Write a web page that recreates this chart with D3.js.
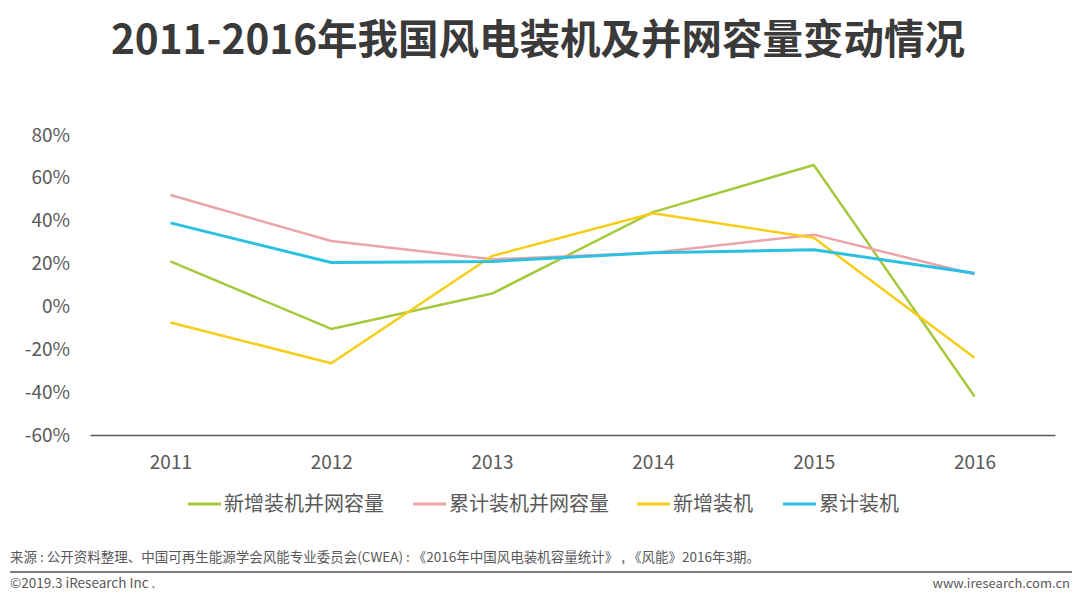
<!doctype html>
<html>
  <head>
    <meta charset="utf-8">
    <title>2011-2016年我国风电装机及并网容量变动情况</title>
    <script src="https://cdn.jsdelivr.net/npm/d3@7/dist/d3.min.js"></script>
    <style>
      body { margin: 0; background: #fff; }
      text { font-family: "Noto Sans CJK SC", "Noto Sans", sans-serif; }
    </style>
  </head>
  <body>
    <div id="chart"></div>
  </body>
  <script>
    var years = ["2011", "2012", "2013", "2014", "2015", "2016"];
    var seriesNames = ["新增装机并网容量", "累计装机并网容量", "新增装机", "累计装机"];
    var newGrid = [21, -10.5, 6, 44, 66, -42];
    var totalGrid = [52, 30.5, 22, 25, 33.5, 15];
    var newInstalled = [-7.5, -26.5, 23.5, 43.5, 32, -24];
    var totalInstalled = [39, 20.5, 21, 25, 26.5, 15.5];
    var yTicks = [-60, -40, -20, 0, 20, 40, 60, 80];
    var colours = ["#a6c93c", "#eba4aa", "#f7cd17", "#2cc0e2"];

    var width = 1080, height = 599;

    var svg = d3.select("#chart")
                .append("svg")
                .attr("width", width)
                .attr("height", height);

    var series = [newGrid, totalGrid, newInstalled, totalInstalled].map(function(v, i) {
      return { name: seriesNames[i], values: v, colour: colours[i] };
    });

    // title
    svg.append("text")
       .attr("x", 538)
       .attr("y", 54)
       .attr("text-anchor", "middle")
       .attr("font-size", 40.5)
       .attr("font-weight", "bold")
       .attr("fill", "#3a3a3a")
       .text("2011-2016年我国风电装机及并网容量变动情况");

    var x = d3.scalePoint()
              .domain(years)
              .range([90, 1055])
              .padding(0.5);

    var y = d3.scaleLinear()
              .domain([-60, 80])
              .range([435, 135]);

    // y labels
    var yAxis = svg.append("g")
       .attr("transform", "translate(70,0)")
       .call(d3.axisLeft(y).tickValues(yTicks).tickSize(0).tickPadding(0)
               .tickFormat(function(d) { return d + "%"; }));
    yAxis.select(".domain").remove();
    yAxis.selectAll("text")
         .attr("font-size", 19)
         .attr("fill", "#595959")
         .style("font-family", "\"Noto Sans CJK SC\", sans-serif");

    // x axis
    var xAxis = svg.append("g")
       .attr("transform", "translate(0,435)")
       .call(d3.axisBottom(x).tickSize(0).tickPadding(21));
    xAxis.select(".domain")
         .attr("stroke", "#595959")
         .attr("stroke-width", 1.5);
    xAxis.selectAll("text")
         .attr("font-size", 19)
         .attr("fill", "#595959")
         .style("font-family", "\"Noto Sans CJK SC\", sans-serif");

    var line = d3.line()
                 .x(function(d, i) { return x(years[i]); })
                 .y(function(d) { return y(d); });

    svg.append("g")
       .selectAll("path")
       .data(series)
       .enter()
       .append("path")
       .attr("d", function(d) { return line(d.values); })
       .attr("fill", "none")
       .attr("stroke", function(d) { return d.colour; })
       .attr("stroke-width", function(d, i) { return i == 3 ? 3 : 2.5; })
       .attr("stroke-linejoin", "round");

    // legend
    var legendX = [188, 413, 637, 783];
    var legend = svg.append("g")
       .selectAll("g")
       .data(series)
       .enter()
       .append("g")
       .attr("transform", function(d, i) { return "translate(" + legendX[i] + ",504)"; });

    legend.append("line")
          .attr("x1", 0).attr("x2", 33)
          .attr("stroke", function(d) { return d.colour; })
          .attr("stroke-width", 3);

    legend.append("text")
          .attr("x", 36)
          .attr("y", 7)
          .attr("font-size", 20)
          .attr("fill", "#595959")
          .text(function(d) { return d.name; });

    // footer
    svg.append("text")
       .attr("x", 10)
       .attr("y", 562)
       .attr("font-size", 13.5)
       .attr("fill", "#595959")
       .text("来源 : 公开资料整理、中国可再生能源学会风能专业委员会(CWEA) : 《2016年中国风电装机容量统计》 , 《风能》2016年3期。");

    svg.append("line")
       .attr("x1", 10).attr("x2", 1072)
       .attr("y1", 572).attr("y2", 572)
       .attr("stroke", "#7f7f7f")
       .attr("stroke-width", 2);

    svg.append("text")
       .attr("x", 10)
       .attr("y", 588)
       .attr("font-size", 13.5)
       .attr("fill", "#595959")
       .text("©2019.3 iResearch Inc .");

    svg.append("text")
       .attr("x", 1070)
       .attr("y", 588)
       .attr("text-anchor", "end")
       .attr("font-size", 13)
       .attr("fill", "#595959")
       .text("www.iresearch.com.cn");
  </script>
</html>
